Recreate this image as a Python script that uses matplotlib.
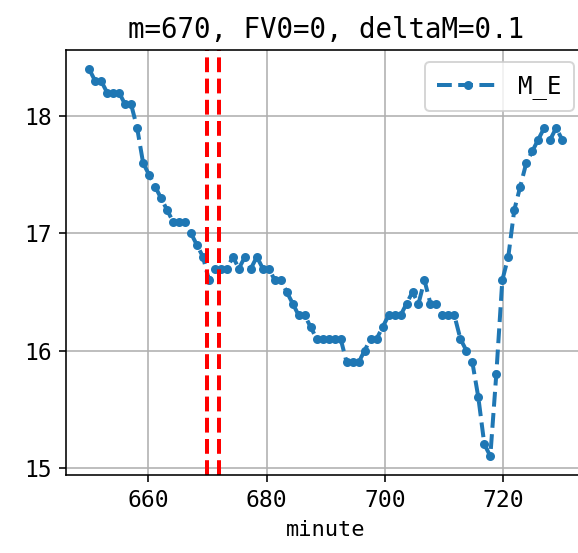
import numpy as np
import matplotlib
matplotlib.use('Agg')
import matplotlib.pyplot as plt

plt.rcParams['font.family'] = ['DejaVu Sans Mono']

# chart values
title = 'm=670, FV0=0, deltaM=0.1'
marks = [670, 672]          # red dashed verticals
y_ticks = [15, 16, 17, 18]
# 80 samples spread evenly over 650..730
minutes = np.linspace(650, 730, 80)
m_e = [18.4, 18.3, 18.3, 18.2, 18.2, 18.2, 18.1, 18.1, 17.9, 17.6,
       17.5, 17.4, 17.3, 17.2, 17.1, 17.1, 17.1, 17.0, 16.9, 16.8,
       16.6, 16.7, 16.7, 16.7, 16.8, 16.7, 16.8, 16.7, 16.8, 16.7,
       16.7, 16.6, 16.6, 16.5, 16.4, 16.3, 16.3, 16.2, 16.1, 16.1,
       16.1, 16.1, 16.1, 15.9, 15.9, 15.9, 16.0, 16.1, 16.1, 16.2,
       16.3, 16.3, 16.3, 16.4, 16.5, 16.4, 16.6, 16.4, 16.4, 16.3,
       16.3, 16.3, 16.1, 16.0, 15.9, 15.6, 15.2, 15.1, 15.8, 16.6,
       16.8, 17.2, 17.4, 17.6, 17.7, 17.8, 17.9, 17.8, 17.9, 17.8]

fig = plt.figure(figsize=(578 / 144, 553 / 144), dpi=144)
# axes runs a little past the right edge, like the reference crop
ax = fig.add_axes([0.1135, 0.1403, 0.9, 0.7693])

ax.plot(minutes, m_e, '--.', linewidth=2, markersize=7, label='M_E')
for x in marks:
    ax.axvline(x, color='r', linestyle='--', linewidth=2)

ax.set_yticks(y_ticks)
ax.set_yticklabels([str(t) for t in y_ticks])
ax.set_title(title, fontsize=13.75)
ax.set_xlabel('minute', fontsize=11)
ax.tick_params(labelsize=11.5)
ax.grid(True)
ax.legend(loc='upper right', fontsize=12, handlelength=2.6, borderpad=0.5)

fig.savefig('out.png', dpi=144)
